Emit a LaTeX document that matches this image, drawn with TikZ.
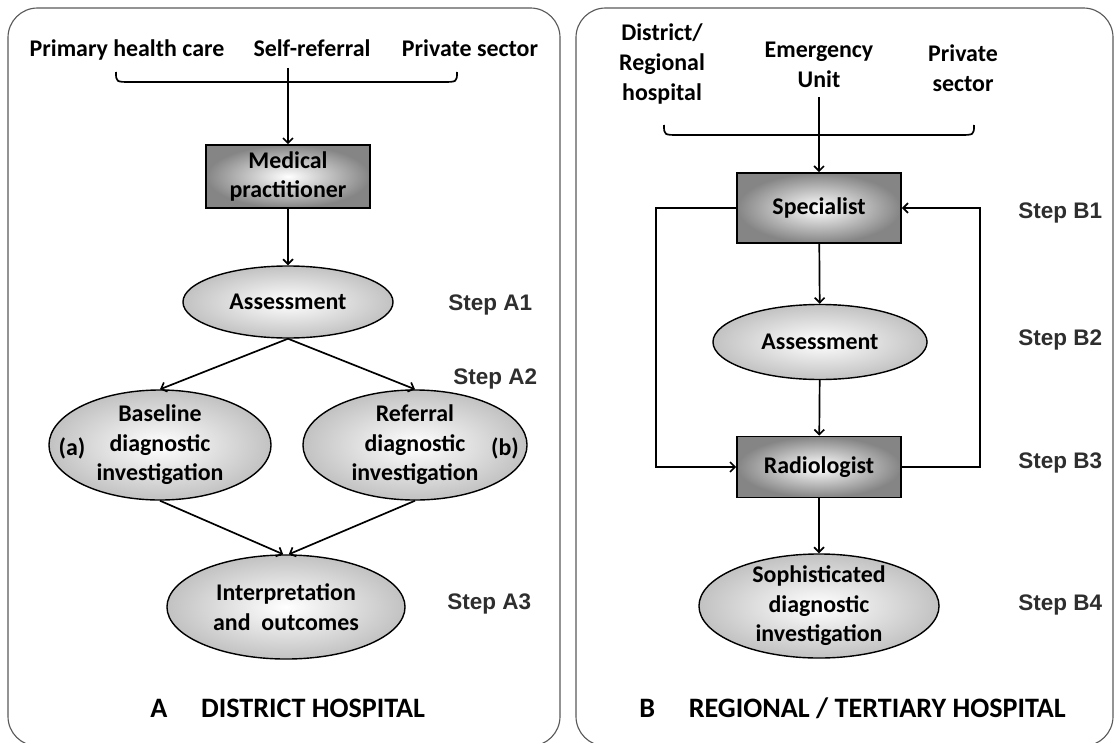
\documentclass[tikz,border=0pt]{standalone}
\usepackage{fontspec}
\setmainfont{Carlito}
\newfontfamily\stepfont{Liberation Sans}
\usetikzlibrary{arrows.meta,shapes.geometric,positioning}

\begin{document}
\begin{tikzpicture}[x=0.025cm,y=-0.025cm,
  lbl/.style={font=\bfseries\fontsize{17}{21}\selectfont,align=center,inner sep=0pt},
  stp/.style={font=\stepfont\bfseries\fontsize{16}{19}\selectfont,text=black!82,anchor=west,inner sep=0pt},
  ttl/.style={font=\bfseries\fontsize{20}{24}\selectfont,anchor=west,inner sep=0pt},
  box/.style={lbl,draw,line width=1.2pt,shading=radial,inner color=white,outer color=black!48,minimum width=4.1cm},
  oval/.style={lbl,ellipse,draw,line width=1pt,shading=radial,inner color=white,outer color=black!24,inner sep=-6pt},
  arr/.style={-{Straight Barb[length=3.5pt,width=7pt]},line width=1.2pt},
  frame/.style={draw=black!65,line width=0.8pt,rounded corners=21pt}]
\useasboundingbox (0,0) rectangle (1116,742);
\clip (0,0) rectangle (1116,742);
\draw[frame] (8,8) rectangle (560,746);
\draw[frame] (576,8) rectangle (1113,746);
% A: district hospital
\node[lbl,anchor=base] (phc) at (127,57) {Primary health care};
\node[lbl,anchor=base] (self) at (312,57) {Self-referral};
\node[lbl,anchor=base] (prvA) at (470,57) {Private sector};
\draw[line width=1.2pt] (116,72) .. controls (116,82) .. (131,82) -- (442,82) .. controls (457,82) .. (457,72);
\coordinate (inA) at (288,68);
\node[box,minimum height=1.575cm] (mp) at (288,176.5) {Medical\\practitioner};
\node[oval,minimum width=5.25cm,minimum height=1.8cm] (asA) at (288,302) {Assessment};
\node[oval,minimum width=5.55cm,minimum height=2.75cm] (bA) at (160,445) {Baseline\\diagnostic\\investigation};
\node[oval,minimum width=5.6cm,minimum height=2.75cm] (rA) at (415,445) {Referral\\diagnostic\\investigation};
\node[oval,minimum width=5.95cm,minimum height=2.6cm] (ioA) at (286,607) {Interpretation\\and\ \ outcomes};
\node[lbl] (ta) at (72,448) {(a)};
\node[lbl] (tb) at (505,448) {(b)};
\draw[arr] (inA) -- (mp);
\draw[arr] (mp) -- (asA);
\draw[arr] (asA.south) -- (bA.north);
\draw[arr] (asA.south) -- (rA.north);
\draw[arr] (bA.south) -- ([xshift=-2pt]ioA.north);
\draw[arr] (rA.south) -- ([xshift=2pt]ioA.north);
\node[stp] (sA1) at (448,305) {Step A1};
\node[stp] (sA2) at (453,379) {Step A2};
\node[stp] (sA3) at (447,604) {Step A3};
\node[ttl] (tA) at (150,708) {A\hspace{24pt}DISTRICT HOSPITAL};
% B: regional / tertiary hospital
\node[lbl] (drh) at (662,64) {District/\\Regional\\hospital};
\node[lbl] (emu) at (819,65) {Emergency\\Unit};
\node[lbl] (prvB) at (963,68) {Private\\sector};
\draw[line width=1.2pt] (664,125) .. controls (664,135) .. (679,135) -- (959,135) .. controls (974,135) .. (974,125);
\coordinate (inB) at (819,97);
\node[box,minimum height=1.75cm] (sp) at (819,208) {Specialist};
\node[oval,minimum width=5.35cm,minimum height=1.875cm] (asB) at (820,342) {Assessment};
\node[box,minimum height=1.525cm] (rad) at (819,467) {Radiologist};
\node[oval,minimum width=6cm,minimum height=2.6cm] (soB) at (819,606) {Sophisticated\\diagnostic\\investigation};
\coordinate (lpL) at (656,340);
\coordinate (lpR) at (980,340);
\draw[arr] (inB) -- (sp);
\draw[arr] (sp) -- (asB);
\draw[arr] (asB) -- (rad);
\draw[arr] (rad) -- (soB);
\draw[arr] (sp.west) -| (lpL) |- (rad.west);
\draw[arr] (rad.east) -| (lpR) |- (sp.east);
\node[stp] (sB1) at (1018,213) {Step B1};
\node[stp] (sB2) at (1018,340) {Step B2};
\node[stp] (sB3) at (1018,463) {Step B3};
\node[stp] (sB4) at (1018,605) {Step B4};
\node[ttl] (tB) at (639,708) {B\hspace{24pt}REGIONAL / TERTIARY HOSPITAL};
\end{tikzpicture}
\end{document}
